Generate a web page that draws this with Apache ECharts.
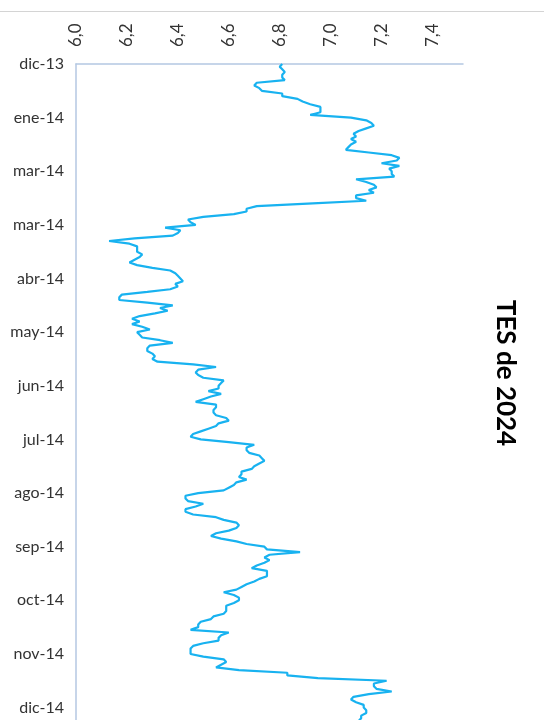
<!DOCTYPE html>
<html>
<head>
<meta charset="utf-8">
<script src="https://cdn.jsdelivr.net/npm/echarts@6/dist/echarts.min.js"></script>
<style>
  html, body { margin: 0; padding: 0; overflow: hidden; background: #fff; }
  #chart { width: 544px; height: 760px; }
</style>
</head>
<body>
<div id="chart"></div>
<script>
// etiquetas del eje de fechas (una cada 20 días hábiles)
const monthLabels = ["dic-13", "ene-14", "mar-14", "mar-14", "abr-14", "may-14", "jun-14",
  "jul-14", "ago-14", "sep-14", "oct-14", "nov-14", "dic-14"];
const valueTicks = [6.0, 6.2, 6.4, 6.6, 6.8, 7.0, 7.2, 7.4];
// tasa TES 2024
const tes = [
  6.81, 6.80, 6.81, 6.82, 6.81, 6.81, 6.82, 6.71, 6.70, 6.72,
  6.73, 6.81, 6.81, 6.87, 6.89, 6.92, 6.96, 6.96, 6.96, 6.92,
  7.08, 7.14, 7.16, 7.17, 7.14, 7.11, 7.09, 7.10, 7.08, 7.10,
  7.08, 7.07, 7.06, 7.15, 7.24, 7.27, 7.26, 7.20, 7.27, 7.23,
  7.24, 7.24, 7.25, 7.10, 7.14, 7.17, 7.18, 7.15, 7.17, 7.10,
  7.10, 7.14, 6.93, 6.71, 6.67, 6.67, 6.62, 6.50, 6.44, 6.45,
  6.47, 6.35, 6.41, 6.40, 6.38, 6.23, 6.13, 6.21, 6.24, 6.24,
  6.24, 6.26, 6.25, 6.23, 6.21, 6.24, 6.30, 6.37, 6.39, 6.40,
  6.41, 6.42, 6.39, 6.40, 6.37, 6.28, 6.18, 6.17, 6.17, 6.28,
  6.38, 6.33, 6.36, 6.31, 6.25, 6.22, 6.25, 6.22, 6.26, 6.29,
  6.24, 6.25, 6.26, 6.33, 6.38, 6.29, 6.28, 6.28, 6.30, 6.31,
  6.30, 6.32, 6.46, 6.55, 6.48, 6.47, 6.48, 6.50, 6.58, 6.57,
  6.56, 6.56, 6.52, 6.57, 6.53, 6.50, 6.47, 6.55, 6.55, 6.54,
  6.54, 6.55, 6.59, 6.60, 6.56, 6.55, 6.52, 6.49, 6.46, 6.45,
  6.49, 6.60, 6.70, 6.67, 6.67, 6.68, 6.72, 6.73, 6.74, 6.72,
  6.70, 6.69, 6.65, 6.65, 6.64, 6.67, 6.63, 6.62, 6.60, 6.58,
  6.48, 6.43, 6.43, 6.44, 6.50, 6.47, 6.43, 6.43, 6.46, 6.55,
  6.58, 6.63, 6.64, 6.63, 6.60, 6.55, 6.53, 6.57, 6.63, 6.67,
  6.74, 6.75, 6.88, 6.76, 6.74, 6.76, 6.74, 6.71, 6.69, 6.75,
  6.75, 6.75, 6.72, 6.70, 6.67, 6.65, 6.63, 6.58, 6.62, 6.64,
  6.64, 6.62, 6.59, 6.59, 6.59, 6.58, 6.54, 6.53, 6.49, 6.48,
  6.48, 6.45, 6.60, 6.57, 6.56, 6.56, 6.50, 6.46, 6.45, 6.45,
  6.45, 6.50, 6.58, 6.59, 6.57, 6.55, 6.64, 6.83, 6.83, 6.95,
  7.22, 7.17, 7.17, 7.18, 7.24, 7.15, 7.09, 7.08, 7.10, 7.13,
  7.13, 7.14, 7.14, 7.12, 7.12, 7.11
];
const days = tes.map((_, i) => i);

const chart = echarts.init(document.getElementById("chart"));
const axisColor = "#b4c7e2";

chart.setOption({
  animation: false,
  grid: {
    left: 76,
    top: 64,
    width: 387,
    height: 657
  },
  xAxis: {
    type: "value",
    position: "top",
    min: valueTicks[0],
    max: 7.52,
    interval: 0.2,
    splitLine: { show: false },
    axisTick: { show: false },
    axisLine: { show: true, lineStyle: { color: axisColor, width: 1.5 } },
    axisLabel: {
      showMaxLabel: false,
      rotate: -90,
      margin: 17,
      color: "#333",
      fontFamily: "Lato",
      fontSize: 17,
      formatter: v => v.toFixed(1).replace(".", ",")
    }
  },
  yAxis: {
    type: "category",
    inverse: true,
    boundaryGap: false,
    data: days,
    axisTick: { show: false },
    axisLine: { show: true, lineStyle: { color: axisColor, width: 1.5 } },
    axisLabel: {
      interval: 19,
      margin: 12,
      color: "#333",
      fontFamily: "Lato",
      fontSize: 16,
      formatter: (v, idx) => monthLabels[idx / 20] || ""
    }
  },
  series: [
    {
      type: "line",
      data: tes,
      showSymbol: false,
      symbol: "none",
      lineStyle: { color: "#18b2f0", width: 2.2 }
    }
  ],
  graphic: [
    {
      type: "line",
      shape: { x1: 0, y1: 11.5, x2: 544, y2: 11.5 },
      style: { stroke: "#d4d4d4", lineWidth: 1 }
    },
    {
      type: "text",
      x: 505,
      y: 373,
      rotation: -Math.PI / 2,
      style: {
        text: "TES de 2024",
        fontFamily: "Lato",
        fontWeight: "bold",
        fontSize: 26,
        fill: "#000",
        align: "center",
        verticalAlign: "middle"
      }
    }
  ]
});
</script>
</body>
</html>
